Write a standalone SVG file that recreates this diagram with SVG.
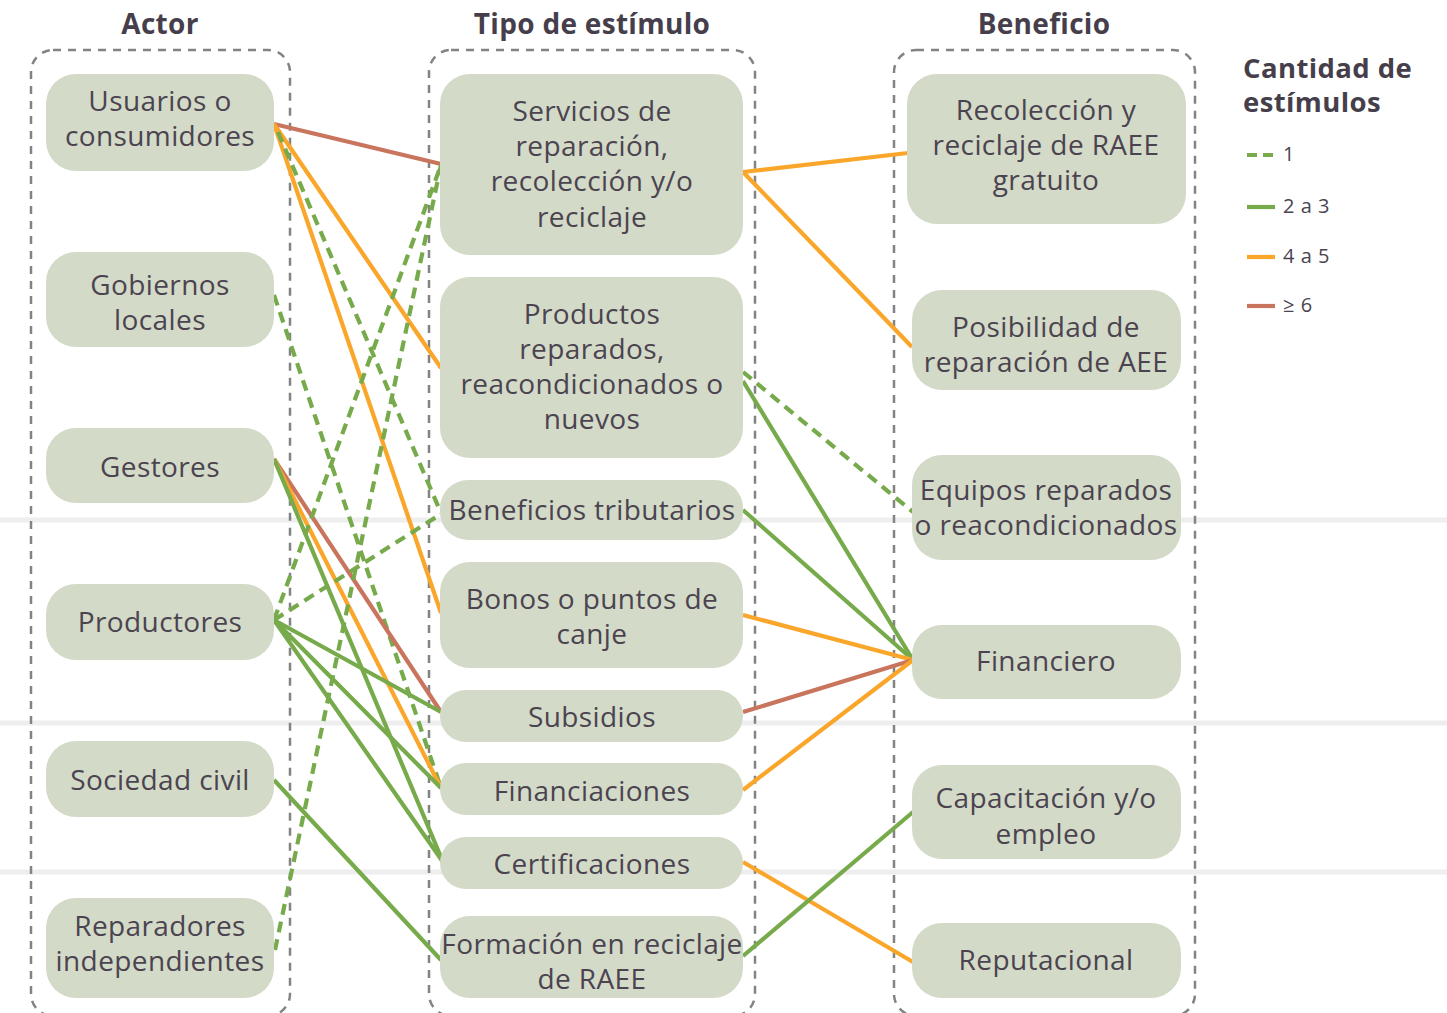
<svg xmlns="http://www.w3.org/2000/svg" width="1447" height="1013" viewBox="0 0 1447 1013">
<style>
.bg{fill:#ffffff}
.band{stroke:#eeeeee;stroke-width:5}
.grp{fill:none;stroke:#838383;stroke-width:2.5;stroke-dasharray:8 7}
.node{fill:#d3dac7}
.t{font-family:"Open Sans","Noto Sans","Liberation Sans",sans-serif;font-size:28px;letter-spacing:0.4px;fill:#4b4450;text-anchor:middle}
.h{font-family:"Open Sans","Noto Sans","Liberation Sans",sans-serif;font-size:28px;letter-spacing:0.3px;font-weight:700;fill:#463f4b;text-anchor:middle}
.lh{font-family:"Open Sans","Noto Sans","Liberation Sans",sans-serif;font-size:27.5px;letter-spacing:0.4px;font-weight:700;fill:#463f4b}
.lt{font-family:"Open Sans","Noto Sans","Liberation Sans",sans-serif;font-size:20px;letter-spacing:0.5px;fill:#4b4450}
.c{fill:none;stroke-width:4.2;stroke-linecap:butt}
.d1{stroke:#77aa4b;stroke-dasharray:11 7}
.g{stroke:#77aa4b}
.o{stroke:#f9a62a}
.r{stroke:#c9755e}
</style>
<rect class="bg" x="0" y="0" width="1447" height="1013"/>
<g id="bands">
<line class="band" x1="0" y1="520" x2="1447" y2="520"/>
<line class="band" x1="0" y1="723" x2="1447" y2="723"/>
<line class="band" x1="0" y1="872" x2="1447" y2="872"/>
</g>
<g id="groups">
<rect class="grp" x="31" y="50" width="259" height="966" rx="22"/>
<rect class="grp" x="429" y="50" width="326" height="966" rx="22"/>
<rect class="grp" x="894" y="50" width="301" height="966" rx="22"/>
<text class="h" x="160" y="34">Actor</text>
<text class="h" x="592" y="34">Tipo de estímulo</text>
<text class="h" x="1044" y="34">Beneficio</text>
</g>
<g id="connectors">
<line class="c r" x1="274" y1="124" x2="441" y2="164"/>
<line class="c o" x1="274" y1="124" x2="441" y2="368"/>
<line class="c o" x1="274" y1="124" x2="441" y2="613"/>
<line class="c d1" x1="278" y1="132" x2="441" y2="513"/>
<line class="c d1" x1="274" y1="295" x2="441" y2="788"/>
<line class="c r" x1="274" y1="459" x2="441" y2="712"/>
<line class="c o" x1="274" y1="459" x2="441" y2="788"/>
<line class="c g" x1="274" y1="459" x2="443" y2="862"/>
<line class="c d1" x1="274" y1="620" x2="441" y2="165"/>
<line class="c d1" x1="274" y1="620" x2="441" y2="514"/>
<line class="c g" x1="274" y1="620" x2="441" y2="712"/>
<line class="c g" x1="274" y1="620" x2="441" y2="788"/>
<line class="c g" x1="274" y1="620" x2="443" y2="862"/>
<line class="c g" x1="274" y1="780" x2="441" y2="960"/>
<line class="c d1" x1="275" y1="950" x2="441" y2="165"/>
<line class="c o" x1="743" y1="172" x2="908" y2="153"/>
<line class="c o" x1="743" y1="172" x2="912" y2="347"/>
<line class="c d1" x1="743" y1="372" x2="913" y2="512"/>
<line class="c g" x1="743" y1="381" x2="913" y2="660"/>
<line class="c g" x1="743" y1="510" x2="913" y2="660"/>
<line class="c o" x1="743" y1="615" x2="913" y2="660"/>
<line class="c r" x1="743" y1="712" x2="913" y2="660"/>
<line class="c o" x1="743" y1="790" x2="913" y2="660"/>
<line class="c o" x1="743" y1="862" x2="913" y2="962"/>
<line class="c g" x1="743" y1="956" x2="913" y2="812"/>
</g>
<g id="actor-usuarios"><rect class="node" x="46" y="74" width="228" height="97" rx="30"/><text class="t" x="160" y="111">Usuarios o</text><text class="t" x="160" y="146">consumidores</text></g>
<g id="actor-gobiernos"><rect class="node" x="46" y="252" width="228" height="95" rx="30"/><text class="t" x="160" y="295">Gobiernos</text><text class="t" x="160" y="330">locales</text></g>
<g id="actor-gestores"><rect class="node" x="46" y="428" width="228" height="75" rx="30"/><text class="t" x="160" y="477">Gestores</text></g>
<g id="actor-productores"><rect class="node" x="46" y="584" width="228" height="76" rx="30"/><text class="t" x="160" y="632">Productores</text></g>
<g id="actor-sociedad"><rect class="node" x="46" y="741" width="228" height="76" rx="30"/><text class="t" x="160" y="790">Sociedad civil</text></g>
<g id="actor-reparadores"><rect class="node" x="46" y="898" width="228" height="100" rx="30"/><text class="t" x="160" y="936">Reparadores</text><text class="t" x="160" y="971">independientes</text></g>
<g id="tipo-servicios"><rect class="node" x="440" y="74" width="303" height="181" rx="30"/><text class="t" x="592" y="121">Servicios de</text><text class="t" x="592" y="156">reparación,</text><text class="t" x="592" y="191">recolección y/o</text><text class="t" x="592" y="227">reciclaje</text></g>
<g id="tipo-productos"><rect class="node" x="440" y="277" width="303" height="181" rx="30"/><text class="t" x="592" y="324">Productos</text><text class="t" x="592" y="359">reparados,</text><text class="t" x="592" y="394">reacondicionados o</text><text class="t" x="592" y="429">nuevos</text></g>
<g id="tipo-tributarios"><rect class="node" x="440" y="480" width="303" height="60" rx="28"/><text class="t" x="592" y="520">Beneficios tributarios</text></g>
<g id="tipo-bonos"><rect class="node" x="440" y="562" width="303" height="106" rx="30"/><text class="t" x="592" y="609">Bonos o puntos de</text><text class="t" x="592" y="644">canje</text></g>
<g id="tipo-subsidios"><rect class="node" x="440" y="690" width="303" height="52" rx="26"/><text class="t" x="592" y="727">Subsidios</text></g>
<g id="tipo-financiaciones"><rect class="node" x="440" y="763" width="303" height="52" rx="26"/><text class="t" x="592" y="801">Financiaciones</text></g>
<g id="tipo-certificaciones"><rect class="node" x="440" y="837" width="303" height="52" rx="26"/><text class="t" x="592" y="874">Certificaciones</text></g>
<g id="tipo-formacion"><rect class="node" x="440" y="916" width="303" height="82" rx="30"/><text class="t" x="592" y="954">Formación en reciclaje</text><text class="t" x="592" y="989">de RAEE</text></g>
<g id="ben-recoleccion"><rect class="node" x="907" y="74" width="279" height="150" rx="30"/><text class="t" x="1046" y="120">Recolección y</text><text class="t" x="1046" y="155">reciclaje de RAEE</text><text class="t" x="1046" y="190">gratuito</text></g>
<g id="ben-posibilidad"><rect class="node" x="912" y="290" width="269" height="100" rx="30"/><text class="t" x="1046" y="337">Posibilidad de</text><text class="t" x="1046" y="372">reparación de AEE</text></g>
<g id="ben-equipos"><rect class="node" x="912" y="455" width="269" height="105" rx="30"/><text class="t" x="1046" y="500">Equipos reparados</text><text class="t" x="1046" y="535">o reacondicionados</text></g>
<g id="ben-financiero"><rect class="node" x="912" y="625" width="269" height="74" rx="30"/><text class="t" x="1046" y="671">Financiero</text></g>
<g id="ben-capacitacion"><rect class="node" x="912" y="765" width="269" height="94" rx="30"/><text class="t" x="1046" y="808">Capacitación y/o</text><text class="t" x="1046" y="844">empleo</text></g>
<g id="ben-reputacional"><rect class="node" x="912" y="923" width="269" height="75" rx="30"/><text class="t" x="1046" y="970">Reputacional</text></g>
<g id="legend">
<text class="lh" x="1243" y="78">Cantidad de</text>
<text class="lh" x="1243" y="112">estímulos</text>
<line class="c d1" x1="1247" y1="155" x2="1275" y2="155" style="stroke-dasharray:10 6"/>
<text class="lt" x="1283" y="161">1</text>
<line class="c g" x1="1247" y1="207" x2="1275" y2="207"/>
<text class="lt" x="1283" y="213">2 a 3</text>
<line class="c o" x1="1247" y1="257" x2="1275" y2="257"/>
<text class="lt" x="1283" y="263">4 a 5</text>
<line class="c r" x1="1247" y1="306" x2="1275" y2="306"/>
<text class="lt" x="1283" y="312">≥ 6</text>
</g>
</svg>
